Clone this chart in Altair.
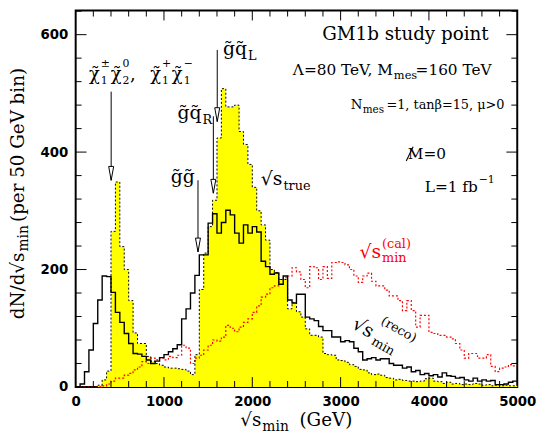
import altair as alt
import pandas as pd

BIN = 50
true_counts = [0, 0, 0, 0, 0, 3, 12, 27, 265, 349,
               239, 200, 147, 92, 74, 74, 52, 44, 40, 37,
               34, 32, 32, 31, 30, 27, 21, 55, 166, 228,
               273, 318, 424, 508, 477, 477, 480, 435, 413, 379,
               340, 300, 276, 250, 200, 195, 183, 183, 133, 144,
               128, 119, 99, 88, 88, 85, 57, 55, 54, 46,
               45, 42, 38, 35, 30, 29, 24, 21, 22, 20,
               16, 15, 12, 13, 11, 10, 10, 9, 10, 14,
               15, 10, 9, 6, 8, 5, 6, 4, 5, 4,
               6, 5, 3, 4, 2, 3, 2, 3, 2, 2]
reco_counts = [0, 5, 26, 63, 108, 148, 189, 188, 161, 127,
               110, 91, 74, 57, 56, 52, 46, 40, 44, 50,
               55, 60, 65, 72, 116, 133, 160, 190, 225, 225,
               279, 295, 262, 280, 301, 293, 262, 245, 276, 262,
               273, 264, 214, 205, 192, 194, 175, 189, 148, 143,
               158, 158, 119, 116, 113, 103, 96, 96, 85, 85,
               77, 79, 77, 66, 60, 46, 48, 50, 46, 48,
               48, 40, 37, 37, 32, 34, 26, 28, 21, 23,
               19, 21, 17, 24, 19, 18, 15, 16, 12, 10,
               15, 10, 12, 10, 11, 4, 4, 5, 8, 10]
cal_counts = [0, 0, 0, 0, 0, 0, 2, 5, 10, 15,
              15, 20, 23, 29, 34, 43, 40, 49, 46, 49,
              46, 52, 50, 54, 71, 66, 40, 49, 54, 63,
              71, 80, 78, 85, 105, 100, 94, 102, 110, 116,
              127, 138, 153, 158, 169, 172, 183, 186, 189, 203,
              196, 183, 169, 205, 203, 183, 205, 185, 212, 213,
              212, 208, 200, 189, 178, 189, 194, 180, 172, 172,
              165, 155, 155, 147, 130, 147, 130, 102, 122, 122,
              93, 91, 88, 88, 85, 82, 74, 63, 49, 57,
              57, 49, 49, 55, 35, 26, 32, 34, 38, 36]

x_major = [1000, 2000, 3000, 4000]
x_minor = [v for v in range(200, 5000, 200) if v % 1000]
y_major = [200, 400, 600]
y_minor = [v for v in range(40, 641, 40) if v % 200]

W, H = 447, 381
SERIF = "DejaVu Serif"
edges = [i * BIN for i in range(len(true_counts) + 1)]

xscale = alt.Scale(domain=[0, 5000], nice=False, zero=False)
yscale = alt.Scale(domain=[0, 641], nice=False, zero=False)
xaxis = alt.Axis(values=[0, 1000, 2000, 3000, 4000, 5000], title=None, grid=False,
                 ticks=False, domain=False, labelFont="DejaVu Sans", labelFontWeight="bold",
                 labelFontSize=13.5, labelColor="black", labelPadding=8, labelFlush=False,
                 format="d")
yaxis = alt.Axis(values=[0, 200, 400, 600], title=None, grid=False, ticks=False,
                 domain=False, labelFont="DejaVu Sans", labelFontWeight="bold",
                 labelFontSize=13.5, labelColor="black", labelPadding=8, labelFlush=False,
                 format="d")


def X(f):
    return alt.X(f + ":Q", scale=xscale, axis=xaxis)


def Y(f):
    return alt.Y(f + ":Q", scale=yscale, axis=yaxis)


def step_df(vals):
    return pd.DataFrame({"x": edges, "y": list(vals) + [vals[-1]]})


area_true = alt.Chart(step_df(true_counts)).mark_area(
    interpolate="step-after", color="#ffff00", opacity=1).encode(x=X("x"), y=Y("y"))
line_true = alt.Chart(step_df(true_counts)).mark_line(
    interpolate="step-after", color="black", strokeDash=[2, 2], strokeWidth=1).encode(x=X("x"), y=Y("y"))
line_cal = alt.Chart(step_df(cal_counts)).mark_line(
    interpolate="step-after", color="#ff0000", strokeDash=[2, 2], strokeWidth=1.2).encode(x=X("x"), y=Y("y"))
line_reco = alt.Chart(step_df(reco_counts)).mark_line(
    interpolate="step-after", color="black", strokeWidth=1.4).encode(x=X("x"), y=Y("y"))


def ticks_x(vals, length, top):
    df = pd.DataFrame({"t": vals})
    if top:
        return alt.Chart(df).mark_rule(color="black", strokeWidth=1).encode(
            x=X("t"), y=alt.value(0), y2=alt.value(length))
    return alt.Chart(df).mark_rule(color="black", strokeWidth=1).encode(
        x=X("t"), y=alt.value(H), y2=alt.value(H - length))


def ticks_y(vals, length, right):
    df = pd.DataFrame({"t": vals})
    if right:
        return alt.Chart(df).mark_rule(color="black", strokeWidth=1).encode(
            y=Y("t"), x=alt.value(W), x2=alt.value(W - length))
    return alt.Chart(df).mark_rule(color="black", strokeWidth=1).encode(
        y=Y("t"), x=alt.value(0), x2=alt.value(length))


tick_layers = [ticks_x(x_major, 10, False), ticks_x(x_minor, 6, False),
               ticks_x(x_major, 10, True), ticks_x(x_minor, 6, True),
               ticks_y(y_major, 11, False), ticks_y(y_minor, 6, False),
               ticks_y(y_major, 11, True), ticks_y(y_minor, 6, True)]

# arrows: x position (GeV), top and tip (counts)
arrow_df = pd.DataFrame({
    "ax": [402, 1603, 1559, 1385],
    "atop": [503, 574, 461, 352],
    "atip": [352, 452, 330, 230],
})
arrow_lines = alt.Chart(arrow_df).mark_rule(color="black", strokeWidth=1).encode(
    x=X("ax"), y=Y("atop"), y2=alt.Y2("atip:Q"))
arrow_heads = alt.Chart(arrow_df).mark_point(
    shape="M -0.36 -2 L 0.36 -2 L 0 0 Z", size=196, filled=True, fill="white",
    stroke="black", strokeWidth=1, opacity=1).encode(x=X("ax"), y=Y("atip"))

# slash through the M of "missing M"
slash_df = pd.DataFrame({"sx": [3743], "sx2": [3821], "sy": [385], "sy2": [409]})
slash = alt.Chart(slash_df).mark_rule(color="black", strokeWidth=1.1).encode(
    x=X("sx"), x2=alt.X2("sx2:Q"), y=Y("sy"), y2=alt.Y2("sy2:Q"))


def txt(rows, size, color="black", align="left", baseline="alphabetic", angle=0):
    df = pd.DataFrame(rows, columns=["gx", "gy", "label"])
    kw = dict(font=SERIF, fontSize=size, color=color, align=align, baseline=baseline)
    if angle:
        kw["angle"] = angle
    return alt.Chart(df).mark_text(**kw).encode(x=X("gx"), y=Y("gy"), text="label:N")


CHI = "\u03c7\u0303"
GT = "g\u0303"
QT = "q\u0303"

text_layers = [
    txt([(4676, 590.5, "GM1b study point")], 18.5, align="right"),
    # Lambda / M_mes line
    txt([(3592, 531.6, "\u039b=80 TeV, M")], 15.5, align="right"),
    txt([(3603, 524.9, "mes")], 11.5),
    txt([(3849, 531.6, "=160 TeV")], 15.5),
    # N_mes line
    txt([(4855, 472.7, "=1, tan\u03b2=15, \u03bc>0")], 13, align="right"),
    txt([(3492, 466, "mes")], 10.5, align="right"),
    txt([(3246, 472.7, "N")], 13.5, align="right"),
    # missing mass and luminosity
    txt([(3760, 388.6, "M=0")], 15.5),
    txt([(4553, 331.4, "L=1  fb")], 15.5, align="right"),
    txt([(4564, 346.6, "\u22121")], 11),
    # chargino / neutralino label
    txt([(152, 523.2, CHI), (397, 523.2, CHI), (615, 523.2, ","),
         (844, 523.2, CHI), (1089, 523.2, CHI)], 18),
    txt([(285, 545, "\u00b1"), (531, 545, "0"), (978, 545, "+"), (1223, 545, "\u2212")], 11),
    txt([(285, 516.5, "1"), (531, 516.5, "2"), (978, 516.5, "1"), (1223, 516.5, "1")], 11),
    # squark / gluino labels
    txt([(1939, 565.3, GT + QT), (1425, 455.9, GT + QT)], 19, align="right"),
    txt([(1078, 346.6, GT + GT)], 19),
    txt([(1950, 556.9, "L"), (1436, 447.5, "R")], 13),
    # sqrt(s) true
    txt([(2341, 343.2, "\u221as")], 19, align="right"),
    txt([(2352, 334.8, "true")], 13),
    # cal (red)
    txt([(3459, 220.4, "\u221as")], 19, color="#ff0000", align="right"),
    txt([(3469, 237.2, "(cal)"), (3469, 212, "min")], 13, color="#ff0000"),
    # reco (rotated)
    txt([(3257, 100.9, "\u221as")], 19, align="center", baseline="middle", angle=30),
    txt([(3480, 69, "min"), (3659, 97.6, "(reco)")], 13, align="center", baseline="middle", angle=30),
]


def ptxt(px, py, label, size, angle=0, align="left"):
    kw = dict(font=SERIF, fontSize=size, color="black", align=align, baseline="alphabetic")
    if angle:
        kw["angle"] = angle
    return alt.Chart(pd.DataFrame({"label": [label]})).mark_text(**kw).encode(
        x=alt.value(px), y=alt.value(py), text="label:N")


title_layers = [
    ptxt(188, 421, "\u221as", 18.5, align="right"),
    ptxt(189, 425.5, "min", 14),
    ptxt(226.5, 421, "(GeV)", 18.5),
    ptxt(-52.5, 245, "dN/d\u221as", 18.5, angle=270, align="right"),
    ptxt(-48, 244, "min", 14, angle=270),
    ptxt(-52.5, 214, "(per 50 GeV bin)", 18.5, angle=270),
]

chart = alt.layer(
    area_true, line_cal, line_true, line_reco,
    *tick_layers, arrow_lines, arrow_heads, slash, *text_layers, *title_layers
).properties(
    width=W, height=H,
    autosize=alt.AutoSizeParams(type="none"),
    padding={"left": 68.5, "top": 0, "right": 20, "bottom": 45},
).configure_view(stroke="black", strokeWidth=2)

chart.save("out.html", embed_options={"renderer": "svg", "actions": False})
